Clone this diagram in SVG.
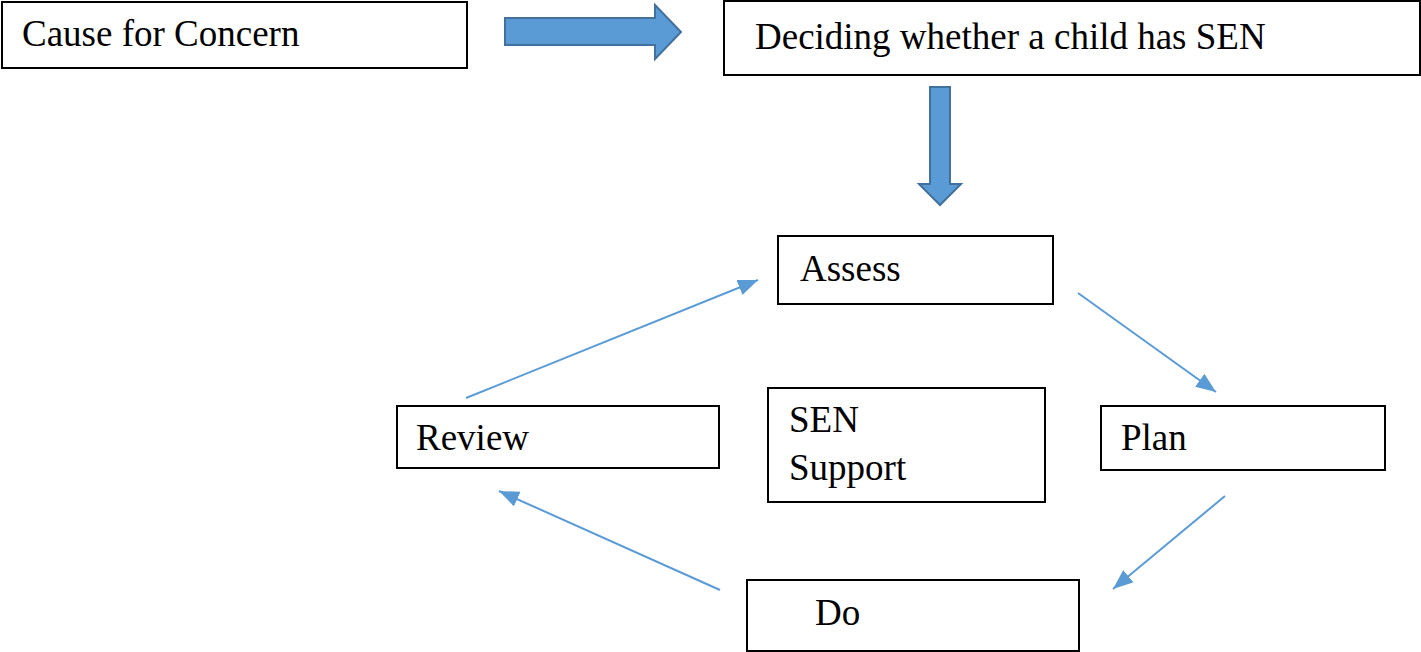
<svg xmlns="http://www.w3.org/2000/svg" width="1421" height="652" viewBox="0 0 1421 652">
<defs>
<style>
.box{fill:#fff;stroke:#000;stroke-width:2}
.t{font-family:"Liberation Serif","Times New Roman",serif;font-size:37px;fill:#000}
.con{stroke:#5b9bd5;stroke-width:2;fill:none}
.big{fill:#5b9bd5;stroke:#41719c;stroke-width:2;stroke-linejoin:miter}
</style>
<marker id="ah" viewBox="0 0 10 8" refX="10" refY="4" markerWidth="10" markerHeight="8" orient="auto" markerUnits="strokeWidth">
<path d="M0,0 L10,4 L0,8 z" fill="#5b9bd5"/>
</marker>
</defs>
<rect width="1421" height="652" fill="#fff"/>
<g id="cause"><rect class="box" x="2" y="2" width="465" height="66"/><text class="t" x="22" y="46">Cause for Concern</text></g>
<g id="deciding"><rect class="box" x="724" y="1" width="696" height="74"/><text class="t" x="755" y="49">Deciding whether a child has SEN</text></g>
<g id="assess"><rect class="box" x="778" y="236" width="275" height="68"/><text class="t" x="800" y="281">Assess</text></g>
<g id="review"><rect class="box" x="397" y="406" width="322" height="62"/><text class="t" x="416" y="450">Review</text></g>
<g id="sen"><rect class="box" x="768" y="388" width="277" height="114"/><text class="t" x="789" y="432">SEN</text><text class="t" x="789" y="480">Support</text></g>
<g id="plan"><rect class="box" x="1101" y="406" width="284" height="64"/><text class="t" x="1121" y="450">Plan</text></g>
<g id="do"><rect class="box" x="747" y="580" width="332" height="71"/><text class="t" x="815" y="625">Do</text></g>
<g id="connectors">
<path class="big" d="M505,18 L655,18 L655,5 L681,32 L655,59 L655,45 L505,45 z"/>
<path class="big" d="M930,87 L950,87 L950,184 L961,184 L940,205 L919,184 L930,184 z"/>
<line class="con" x1="466" y1="398" x2="758" y2="280" marker-end="url(#ah)"/>
<line class="con" x1="1078" y1="293" x2="1216" y2="392" marker-end="url(#ah)"/>
<line class="con" x1="1225" y1="496" x2="1113" y2="589" marker-end="url(#ah)"/>
<line class="con" x1="720" y1="590" x2="499" y2="491" marker-end="url(#ah)"/>
</g>
</svg>
